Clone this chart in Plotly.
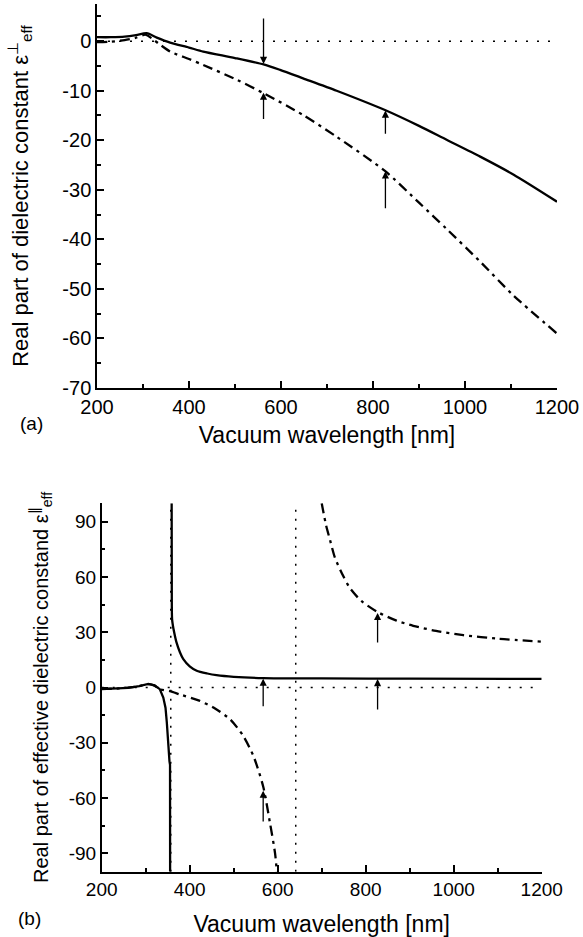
import plotly.graph_objects as go

# ---------------- data ----------------
# Panel (a): real part of eps_perp_eff
a_solid_wl = [200, 230, 260, 285, 308, 330, 359, 400, 431, 500, 562, 598, 648, 721, 826, 900, 960, 1033, 1105, 1200]
a_solid_eps = [0.8, 0.8, 0.9, 1.2, 1.6, 0.7, -0.3, -1.3, -2.1, -3.4, -4.7, -5.8, -7.5, -10.0, -13.9, -17.1, -19.9, -23.3, -26.9, -32.4]

a_dash_wl = [200, 230, 260, 285, 305, 320, 337, 359, 400, 431, 504, 562, 648, 721, 826, 900, 960, 1033, 1105, 1200]
a_dash_eps = [-0.2, -0.1, 0.2, 0.7, 1.3, 0.5, -0.7, -2.1, -3.6, -4.8, -7.8, -10.5, -14.9, -19.3, -26.2, -32.6, -37.9, -44.5, -51.3, -59.0]

# Panel (b): real part of eps_par_eff (two branches per curve)
b_solid1_wl = [200, 230, 260, 285, 306, 320, 332, 340, 345, 348, 351, 354, 355.3, 355.5]
b_solid1_eps = [-0.9, -0.7, -0.2, 0.8, 2.0, 1.2, -0.9, -5.5, -11.0, -19.0, -33.6, -40.0, -42.0, -100]
b_solid2_wl = [359.0, 359.3, 360, 363, 366, 370, 378, 385.5, 400, 416, 440, 461, 500, 567, 700, 900, 1200]
b_solid2_eps = [100, 60, 37, 32, 28.5, 24.5, 19.0, 15.4, 11.5, 9.1, 7.6, 6.7, 5.8, 5.1, 4.9, 4.8, 4.7]

b_dash1_wl = [200, 240, 280, 306, 320, 332, 355, 378, 420, 454, 492, 522, 545, 567, 582.5, 594, 598]
b_dash1_eps = [-0.8, -0.5, 0.5, 1.8, 1.0, -0.9, -2.0, -3.8, -7.0, -10.9, -17.3, -26.4, -37.3, -53.7, -73.6, -90, -100]
b_dash2_wl = [700, 710, 719, 730, 749, 764, 790, 827, 870, 908, 960, 1022, 1100, 1200]
b_dash2_eps = [100, 88, 80, 70.5, 60.5, 54, 47, 41, 36.3, 33.5, 30.7, 28.4, 26.5, 24.9]

b_vlines_wl = [357, 641]          # vertical dotted reference lines in (b)
x_range = [200, 1200]

# arrows: (wavelength, tip value, tail value)
a_arrows = [(562, -4.6, 4.9), (562, -10.4, -16.0), (827, -14.0, -19.0), (827, -26.3, -34.0)]
b_arrows = [(567, 4.8, -11.0), (567, -56.0, -73.5), (827, 40.5, 23.6), (827, 4.6, -12.8)]

x_ticks = [200, 400, 600, 800, 1000, 1200]
a_y_ticks = [0, -10, -20, -30, -40, -50, -60, -70]
b_y_ticks = [90, 60, 30, 0, -30, -60, -90]

# ---------------- figure ----------------
FONT = "Liberation Sans, Arial, sans-serif"
BLACK = "#000000"
DASHDOT = "10px,5px,3px,5px"

fig = go.Figure()

def line(x, y, xa, ya, dash="solid", width=2.3, shape="linear"):
    fig.add_trace(go.Scatter(x=x, y=y, xaxis=xa, yaxis=ya, mode="lines",
                             line=dict(color=BLACK, width=width, dash=dash, shape=shape,
                                       smoothing=0.7 if shape == "spline" else None),
                             showlegend=False, hoverinfo="skip"))

# zero reference lines
line(x_range, [0, 0], "x", "y", dash="2px,9px", width=1.5)
line(x_range, [0, 0], "x2", "y2", dash="2px,9px", width=1.5)
for v in b_vlines_wl:
    line([v, v], [-100, 100], "x2", "y2", dash="2px,7px", width=1.5)

line(a_solid_wl, a_solid_eps, "x", "y", shape="spline")
line(a_dash_wl, a_dash_eps, "x", "y", dash=DASHDOT, shape="spline")
line(b_solid1_wl, b_solid1_eps, "x2", "y2")
line(b_solid2_wl, b_solid2_eps, "x2", "y2", shape="spline")
line(b_dash1_wl, b_dash1_eps, "x2", "y2", dash=DASHDOT, shape="spline")
line(b_dash2_wl, b_dash2_eps, "x2", "y2", dash=DASHDOT, shape="spline")

annotations = []
for wl, tip, tail in a_arrows:
    annotations.append(dict(x=wl, y=tip, ax=wl, ay=tail, xref="x", yref="y", axref="x", ayref="y",
                            text="", showarrow=True, arrowhead=2, arrowsize=1.1, arrowwidth=1.3,
                            arrowcolor=BLACK, standoff=0, startstandoff=0))
for wl, tip, tail in b_arrows:
    annotations.append(dict(x=wl, y=tip, ax=wl, ay=tail, xref="x2", yref="y2", axref="x2", ayref="y2",
                            text="", showarrow=True, arrowhead=2, arrowsize=1.1, arrowwidth=1.3,
                            arrowcolor=BLACK, standoff=0, startstandoff=0))

W, H = 583, 937
L, R, T, B = 97, 26, 4, 65
pw, ph = W - L - R, H - T - B

def px_x(px):
    return (px - L) / pw

def px_y(py):
    return 1 - (py - T) / ph

annotations.append(dict(text="(a)", x=px_x(31), y=px_y(423), xref="paper", yref="paper",
                        xanchor="center", yanchor="middle",
                        showarrow=False, font=dict(family=FONT, size=19, color=BLACK)))
annotations.append(dict(text="(b)", x=px_x(29), y=px_y(918), xref="paper", yref="paper",
                        xanchor="center", yanchor="middle",
                        showarrow=False, font=dict(family=FONT, size=19, color=BLACK)))

def xaxis(domain, anchor, tickfont, titlefont, standoff):
    return dict(domain=domain, anchor=anchor, range=x_range, tickvals=x_ticks,
                ticktext=[str(t) for t in x_ticks],
                showline=True, linecolor=BLACK, linewidth=1.5, mirror=False,
                ticks="inside", ticklen=7, tickwidth=1.5, tickcolor=BLACK,
                minor=dict(dtick=100, ticks="inside", ticklen=4, tickwidth=1.5, tickcolor=BLACK, showgrid=False),
                showgrid=False, zeroline=False, automargin=False, ticklabeloverflow="allow",
                tickfont=dict(family=FONT, size=tickfont, color=BLACK),
                title=dict(text="Vacuum wavelength [nm]", standoff=standoff,
                           font=dict(family=FONT, size=titlefont, color=BLACK)))

def yaxis(domain, anchor, rng, ticks, minor, title, tickfont, titlefont, standoff):
    return dict(domain=domain, anchor=anchor, range=rng, tickvals=ticks,
                ticktext=[str(t) for t in ticks],
                showline=True, linecolor=BLACK, linewidth=1.5, mirror=False,
                ticks="inside", ticklen=7, tickwidth=1.5, tickcolor=BLACK,
                minor=dict(dtick=minor, ticks="inside", ticklen=4, tickwidth=1.5, tickcolor=BLACK, showgrid=False),
                showgrid=False, zeroline=False, automargin=False, ticklabeloverflow="allow",
                tickfont=dict(family=FONT, size=tickfont, color=BLACK),
                title=dict(text=title, standoff=standoff,
                           font=dict(family=FONT, size=titlefont, color=BLACK)))

fig.update_layout(
    width=W, height=H,
    margin=dict(l=L, r=R, t=T, b=B),
    paper_bgcolor="white", plot_bgcolor="white",
    template="none",
    showlegend=False,
    annotations=annotations,
    xaxis=xaxis([0, 1], "y", 20, 23, 10),
    yaxis=yaxis([px_y(388), 1], "x", [-70, 7.5], a_y_ticks, 5,
                "Real part of dielectric constant ε<sup>⊥</sup><sub>eff</sub>", 20, 22, 28),
    xaxis2=xaxis([px_x(101.7), px_x(541.7)], "y2", 19, 23, 18),
    yaxis2=yaxis([px_y(871.7), px_y(503.3)], "x2", [-100, 100], b_y_ticks, 15,
                 "Real part of effective dielectric constand ε<sup>∥</sup><sub>eff</sub>", 19, 20, 15),
)

fig.write_html("out.html", config={"displayModeBar": False},
               post_script="document.body.style.margin='0';document.body.style.overflow='hidden';")
